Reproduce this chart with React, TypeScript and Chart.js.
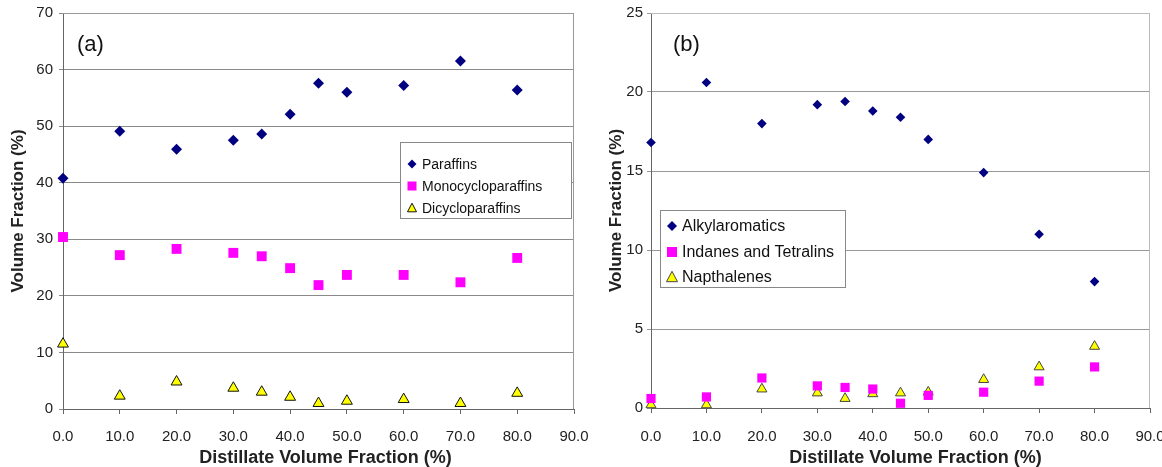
import React, { useEffect, useRef } from 'react';
import { Chart, registerables } from 'chart.js';

Chart.register(...registerables);

// ---------- data ----------
const distillate = [0, 10, 20, 30, 35, 40, 45, 50, 60, 70, 80];
const xTickValues = [0, 10, 20, 30, 40, 50, 60, 70, 80, 90];

const paraffins = [40.8, 49.1, 45.9, 47.5, 48.6, 52.1, 57.6, 56.0, 57.2, 61.5, 56.4];
const monocycloparaffins = [30.4, 27.2, 28.3, 27.6, 27.0, 24.9, 21.9, 23.7, 23.7, 22.4, 26.7];
const dicycloparaffins = [11.5, 2.3, 4.8, 3.7, 3.0, 2.1, 1.0, 1.4, 1.7, 1.0, 2.8];

const alkylaromatics = [16.8, 20.6, 18.0, 19.2, 19.4, 18.8, 18.4, 17.0, 14.9, 11.0, 8.0];
const indanesTetralins = [0.6, 0.7, 1.9, 1.4, 1.3, 1.2, 0.3, 0.8, 1.0, 1.7, 2.6];
const napthalenes = [0.2, 0.2, 1.2, 0.95, 0.6, 0.9, 0.95, 1.0, 1.8, 2.6, 3.9];

const seriesNamesA = ['Paraffins', 'Monocycloparaffins', 'Dicycloparaffins'];
const seriesNamesB = ['Alkylaromatics', 'Indanes and Tetralins', 'Napthalenes'];
const yMaxA = 70;
const yStepA = 10;
const yMaxB = 25;
const yStepB = 5;
const panelLabels = ['(a)', '(b)'];
const xTitle = 'Distillate Volume Fraction (%)';
const yTitle = 'Volume Fraction (%)';

const FONT = '"Liberation Sans", Arial, Helvetica, sans-serif';
const NAVY = '#000080';
const MAGENTA = '#FF00FF';
const YELLOW = '#FFFF00';

type Style = 'diamond' | 'square' | 'triangle';

function drawMarker(ctx: CanvasRenderingContext2D, style: Style, x: number, y: number, r: number, fill: string, stroke: string) {
  ctx.save();
  ctx.fillStyle = fill;
  ctx.strokeStyle = stroke;
  ctx.lineWidth = 1;
  ctx.beginPath();
  if (style === 'diamond') {
    ctx.moveTo(x, y - r);
    ctx.lineTo(x + r, y);
    ctx.lineTo(x, y + r);
    ctx.lineTo(x - r, y);
    ctx.closePath();
    ctx.fill();
  } else if (style === 'square') {
    ctx.rect(x - r, y - r, 2 * r, 2 * r);
    ctx.fill();
  } else {
    const h = r * 1.7;
    ctx.moveTo(x, y - h / 2 - 1);
    ctx.lineTo(x + r, y + h / 2);
    ctx.lineTo(x - r, y + h / 2);
    ctx.closePath();
    ctx.fill();
    ctx.stroke();
  }
  ctx.restore();
}

interface Panel {
  width: number;
  padRight: number;
  yWidth: number;
  xHeight: number;
  yMax: number;
  yStep: number;
  yTitlePad: number;
  yTickPad: number;
  xTickPad: number;
  label: string;
  labelX: number;
  names: string[];
  values: number[][];
  radii: number[];
  triBorder: string;
  frameColor: string;
  gridColor: string;
  xTitleOffset: number;
  legend: { x: number; y: number; w: number; h: number; rows: number[]; markerX: number; textX: number; font: number; mr: number[] };
}

function makeConfig(p: Panel): any {
  const styles: Style[] = ['diamond', 'square', 'triangle'];
  const colors = [NAVY, MAGENTA, YELLOW];
  const datasets = p.values.map((vals, i) => ({
    label: p.names[i],
    data: distillate.map((x, j) => ({ x, y: vals[j] })),
    pointStyle: i === 0 ? 'rectRot' : i === 1 ? 'rect' : 'triangle',
    pointRadius: p.radii[i],
    pointHoverRadius: p.radii[i],
    backgroundColor: colors[i],
    borderColor: i === 2 ? p.triBorder : colors[i],
    borderWidth: i === 2 ? 1 : 0,
    showLine: false,
    clip: false,
  }));

  const plugin = {
    id: 'panelDecor',
    beforeDatasetsDraw(chart: any) {
      const { ctx, chartArea: a } = chart;
      ctx.save();
      ctx.strokeStyle = p.frameColor;
      ctx.lineWidth = 1;
      ctx.beginPath();
      ctx.moveTo(a.left, a.top + 0.5);
      ctx.lineTo(a.right - 0.5, a.top + 0.5);
      ctx.lineTo(a.right - 0.5, a.bottom);
      ctx.stroke();
      ctx.restore();
    },
    afterDraw(chart: any) {
      const { ctx, chartArea: a } = chart;
      ctx.save();
      ctx.fillStyle = '#111';
      ctx.font = `22px ${FONT}`;
      ctx.textBaseline = 'middle';
      ctx.textAlign = 'left';
      ctx.fillText(p.label, p.labelX, 45);
      ctx.font = `bold 18px ${FONT}`;
      ctx.textAlign = 'center';
      ctx.fillStyle = '#222';
      ctx.fillText(xTitle, (a.left + a.right) / 2 + p.xTitleOffset, 458);
      const L = p.legend;
      ctx.fillStyle = '#fff';
      ctx.fillRect(L.x, L.y, L.w, L.h);
      ctx.strokeStyle = '#888';
      ctx.lineWidth = 1;
      ctx.strokeRect(L.x + 0.5, L.y + 0.5, L.w, L.h);
      ctx.font = `${L.font}px ${FONT}`;
      ctx.textAlign = 'left';
      ctx.textBaseline = 'middle';
      p.names.forEach((n, i) => {
        drawMarker(ctx, styles[i], L.markerX, L.rows[i], L.mr[i], colors[i], i === 2 ? p.triBorder : colors[i]);
        ctx.fillStyle = '#111';
        ctx.fillText(n, L.textX, L.rows[i] + 1);
      });
      ctx.restore();
    },
  };

  return {
    type: 'scatter',
    data: { datasets },
    plugins: [plugin],
    options: {
      animation: false,
      responsive: false,
      maintainAspectRatio: false,
      layout: { padding: { left: 0, right: p.padRight, top: 13, bottom: 0 } },
      plugins: { legend: { display: false }, tooltip: { enabled: false }, title: { display: false } },
      scales: {
        x: {
          type: 'linear',
          min: 0,
          max: 90,
          afterBuildTicks: (s: any) => {
            s.ticks = xTickValues.map((v) => ({ value: v }));
          },
          afterFit: (s: any) => {
            s.height = p.xHeight;
            s.paddingLeft = 0;
            s.paddingRight = 0;
          },
          ticks: {
            padding: p.xTickPad,
            color: '#222',
            font: { family: FONT, size: 15 },
            maxRotation: 0,
            callback: (v: any) => Number(v).toFixed(1),
          },
          grid: { drawOnChartArea: false, tickLength: 5, color: '#666' },
          border: { color: '#666', width: 1 },
        },
        y: {
          type: 'linear',
          min: 0,
          max: p.yMax,
          ticks: {
            stepSize: p.yStep,
            padding: p.yTickPad,
            color: '#222',
            font: { family: FONT, size: 15 },
          },
          afterFit: (s: any) => {
            s.width = p.yWidth;
            s.paddingTop = 0;
            s.paddingBottom = 0;
          },
          grid: { color: p.gridColor, tickLength: 4, lineWidth: 1 },
          border: { color: '#666', width: 1 },
          title: {
            display: true,
            text: yTitle,
            color: '#222',
            font: { family: FONT, size: 17, weight: 'bold' },
            padding: { top: p.yTitlePad, bottom: 0 },
          },
        },
      },
    },
  };
}

const panelA: Panel = {
  width: 590,
  padRight: 16,
  yWidth: 63,
  xHeight: 58,
  yMax: yMaxA,
  yStep: yStepA,
  yTitlePad: 8,
  yTickPad: 6,
  xTickPad: 14,
  label: panelLabels[0],
  labelX: 77,
  names: seriesNamesA,
  values: [paraffins, monocycloparaffins, dicycloparaffins],
  radii: [5.5, 7, 6.3],
  triBorder: '#111',
  frameColor: '#999',
  gridColor: '#8a8a8a',
  xTitleOffset: 7,
  legend: { x: 400, y: 142, w: 171, h: 76, rows: [164, 186, 208], markerX: 412, textX: 422, font: 14, mr: [4.5, 4.5, 4.5] },
};

const panelB: Panel = {
  width: 572,
  padRight: 12,
  yWidth: 61,
  xHeight: 59,
  yMax: yMaxB,
  yStep: yStepB,
  yTitlePad: 16,
  yTickPad: 4,
  xTickPad: 15,
  label: panelLabels[1],
  labelX: 83,
  names: seriesNamesB,
  values: [alkylaromatics, indanesTetralins, napthalenes],
  radii: [4.8, 6.5, 5.8],
  triBorder: '#444',
  frameColor: '#bbb',
  gridColor: '#999',
  xTitleOffset: 15,
  legend: { x: 70, y: 210, w: 185, h: 77, rows: [226, 252, 277], markerX: 82, textX: 92, font: 16, mr: [5, 5, 5.5] },
};

function ChartPanel({ panel, left }: { panel: Panel; left: number }) {
  const ref = useRef<HTMLCanvasElement | null>(null);
  useEffect(() => {
    if (!ref.current) return;
    const chart = new Chart(ref.current, makeConfig(panel));
    return () => chart.destroy();
  }, [panel]);
  return (
    <canvas
      ref={ref}
      width={panel.width}
      height={467}
      style={{ position: 'absolute', left, top: 0, width: panel.width, height: 467 }}
    />
  );
}

export default function App() {
  return (
    <div style={{ position: 'absolute', left: 0, top: 0, width: 1162, height: 467, background: '#fff', overflow: 'hidden' }}>
      <ChartPanel panel={panelA} left={0} />
      <ChartPanel panel={panelB} left={590} />
    </div>
  );
}
